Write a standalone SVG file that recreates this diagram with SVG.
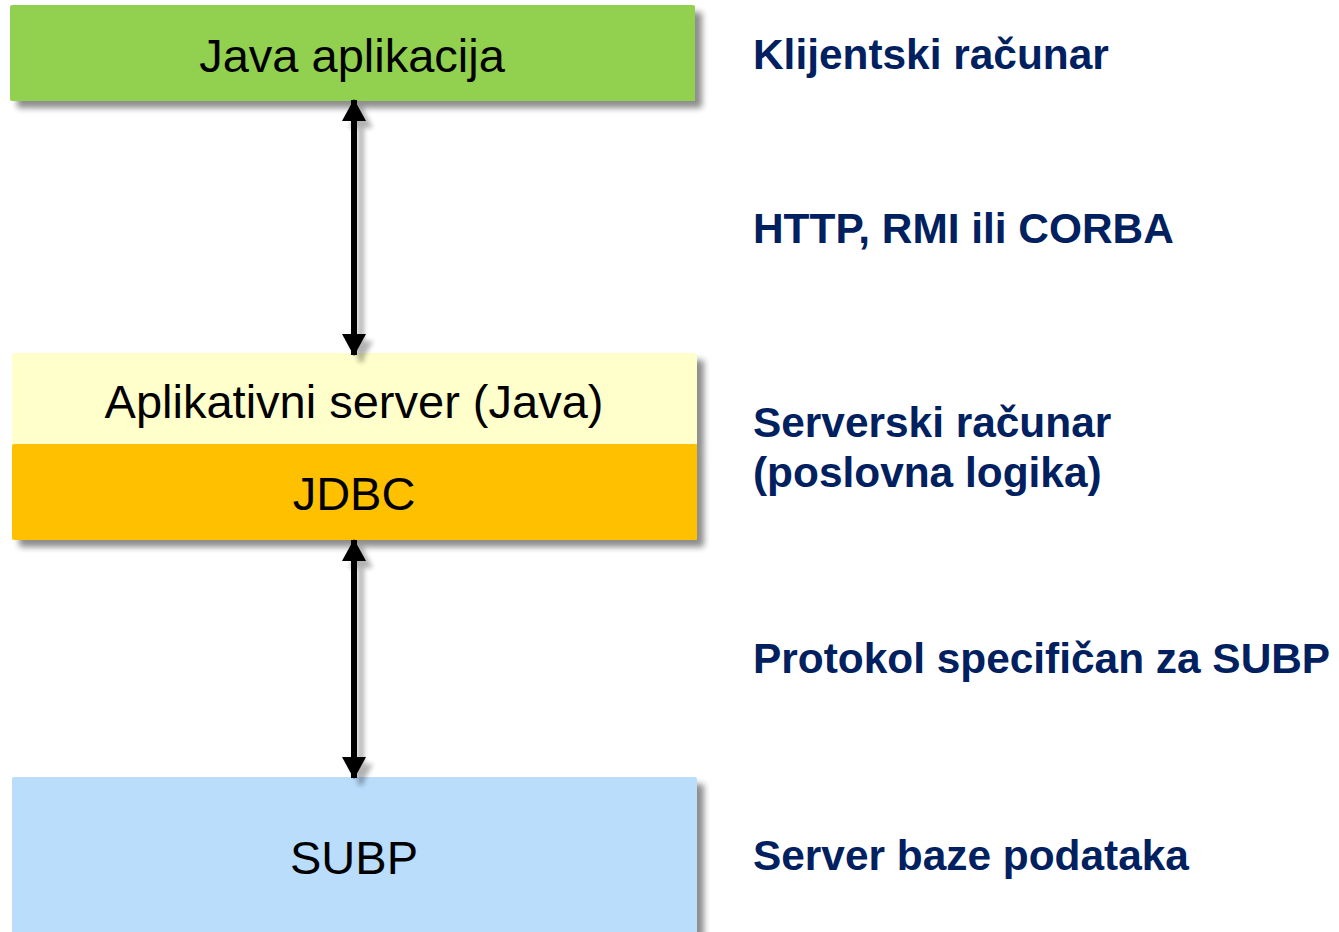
<svg xmlns="http://www.w3.org/2000/svg" width="1339" height="932" viewBox="0 0 1339 932">
<style>
.box-text{font-family:"Liberation Sans",Arial,sans-serif;font-size:47px;fill:#000;text-anchor:middle}
.label{font-family:"Liberation Sans",Arial,sans-serif;font-size:42.4px;font-weight:bold;fill:#002060}
.conn{stroke:#000;stroke-width:6;fill:none}
</style>
<defs>
<filter id="shadow" x="-10%" y="-10%" width="130%" height="140%">
<feGaussianBlur in="SourceAlpha" stdDeviation="3"/>
<feOffset dx="7" dy="7" result="b"/>
<feComponentTransfer><feFuncA type="linear" slope="0.45"/></feComponentTransfer>
<feMerge><feMergeNode/><feMergeNode in="SourceGraphic"/></feMerge>
</filter>
<filter id="ashadow" filterUnits="userSpaceOnUse" x="0" y="0" width="1339" height="932">
<feGaussianBlur in="SourceAlpha" stdDeviation="2.5"/>
<feOffset dx="7" dy="7" result="b"/>
<feComponentTransfer><feFuncA type="linear" slope="0.3"/></feComponentTransfer>
<feMerge><feMergeNode/><feMergeNode in="SourceGraphic"/></feMerge>
</filter>
<marker id="ah" viewBox="0 0 22 24" refX="21" refY="12" markerWidth="22" markerHeight="24" markerUnits="userSpaceOnUse" orient="auto-start-reverse">
<path d="M0,0 L22,12 L0,24 Z" fill="#000"/>
</marker>
</defs>
<rect width="1339" height="932" fill="#fff"/>

<g id="java-app">
<rect x="10" y="5" width="685" height="96" rx="2" fill="#92D050" filter="url(#shadow)"/>
<text class="box-text" x="352" y="72">Java aplikacija</text>
</g>

<g id="app-server">
<g filter="url(#shadow)">
<rect x="12" y="353" width="685" height="92" rx="2" fill="#FFFFCC"/>
<rect x="12" y="444" width="685" height="96" rx="2" fill="#FFC000"/>
</g>
<text class="box-text" x="354" y="418">Aplikativni server (Java)</text>
</g>

<g id="jdbc">
<text class="box-text" x="354" y="510">JDBC</text>
</g>

<g id="subp">
<rect x="12" y="777" width="685" height="170" rx="2" fill="#B9DDFB" filter="url(#shadow)"/>
<text class="box-text" x="354" y="874">SUBP</text>
</g>

<g id="connectors" filter="url(#ashadow)">
<line class="conn" x1="354" y1="100" x2="354" y2="355" marker-start="url(#ah)" marker-end="url(#ah)"/>
<line class="conn" x1="354" y1="540" x2="354" y2="778" marker-start="url(#ah)" marker-end="url(#ah)"/>
</g>

<g id="labels">
<text class="label" x="753" y="69">Klijentski računar</text>
<text class="label" x="753" y="243">HTTP, RMI ili CORBA</text>
<text class="label" x="753" y="437">Serverski računar</text>
<text class="label" x="753" y="487">(poslovna logika)</text>
<text class="label" x="753" y="673">Protokol specifičan za SUBP</text>
<text class="label" x="753" y="870">Server baze podataka</text>
</g>
</svg>
